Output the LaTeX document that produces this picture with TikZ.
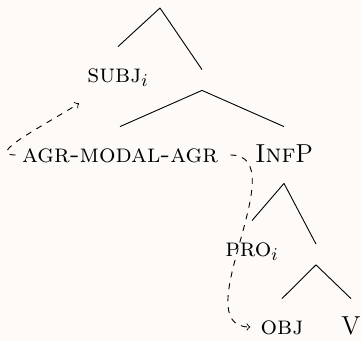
\documentclass[tikz,border=0pt]{standalone}
\usepackage{xcolor}
\usepackage{tikz}
\definecolor{paper}{HTML}{FDFAF7}

\begin{document}
\begin{tikzpicture}[
	x=0.5pt, y=-0.5pt,
	% Define styles for the tree
	cat_node/.style={
		font=\fontsize{13}{15}\selectfont,
		anchor=base,
		text height=8pt,
		text depth=0pt,
		inner xsep=3pt,
		inner ysep=10pt
	},
	empty_node/.style={
		inner sep=0pt,
		minimum size=10pt
	},
	branch/.style={
		draw=black,
		line width=0.45pt
	},
	move_arrow/.style={
		->,
		dashed,
		line width=0.45pt
	}
	]
	
	% Background
	\useasboundingbox (0,0) rectangle (361,341);
	\fill[paper] (0,0) rectangle (361,341);
	
	% --- 1. TOP ---
	\coordinate (root) at (160,8);
	\node[cat_node] (subj) at (118,83) {\textsc{subj}$_i$};
	\node[empty_node] (mid) at (202,80) {};
	\draw[branch] (root) -- (subj.north);
	\draw[branch] (root) -- (mid.north);
	
	% --- 2. AGR + INFP ---
	\node[cat_node] (agr) at (120,163) {\textsc{agr-modal-agr}};
	\node[cat_node] (infp) at (284,163) {\textsc{Inf}P};
	\draw[branch] (mid.south) -- (agr.north);
	\draw[branch] (mid.south) -- (infp.north);
	
	% --- 3. INSIDE INFP ---
	\node[cat_node] (pro) at (252,257) {\textsc{pro}$_i$};
	\node[empty_node] (vbar) at (316,254.5) {};
	\draw[branch] (infp.south) -- (pro.north);
	\draw[branch] (infp.south) -- (vbar.north);
	
	\node[cat_node] (obj) at (282,335) {\textsc{obj}};
	\node[cat_node] (verb) at (351,335) {V};
	\draw[branch] (vbar.south) -- (obj.north);
	\draw[branch] (vbar.south) -- (verb.north);
	
	% --- 4. AGREEMENT ARROWS ---
	\draw[move_arrow] (agr.west) .. controls +(-30,0) and +(-40,25) .. ([xshift=-1pt]subj.south west);
	\draw[move_arrow] ([xshift=3pt]agr.east) .. controls +(67,0) and +(-67,0) .. ([xshift=-2pt]obj.west);
	
\end{tikzpicture}
\end{document}
